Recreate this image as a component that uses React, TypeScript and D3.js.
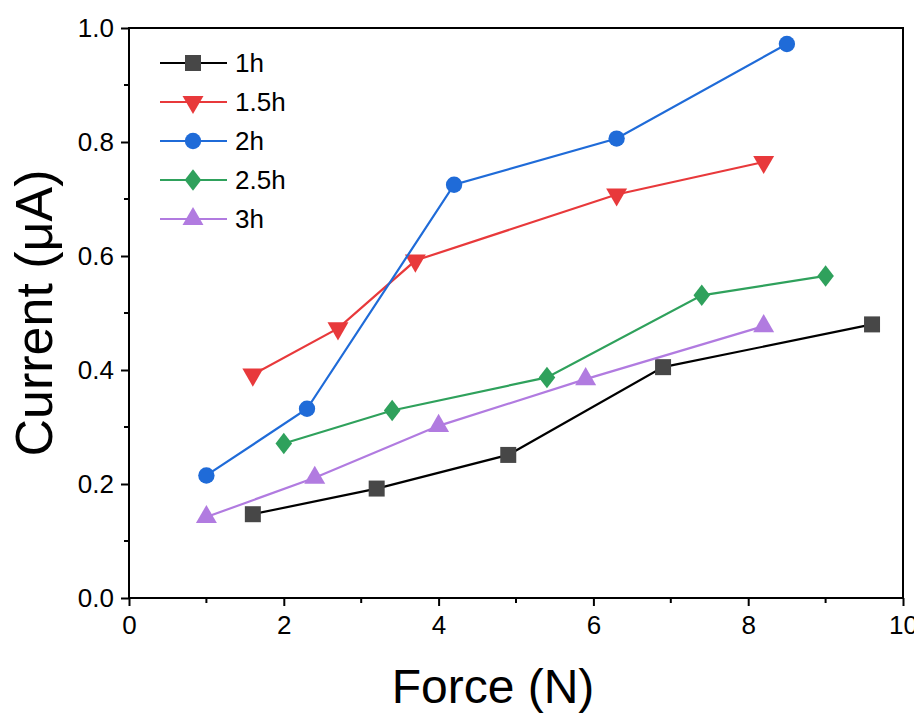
import React, { useEffect, useRef } from "react";
import * as d3 from "d3";

// data
const seriesNames = ["1h", "1.5h", "2h", "2.5h", "3h"];
const seriesColors = ["#000000", "#e8393b", "#1f6bd8", "#2fa15c", "#b17be0"];
const markerFills = ["#474747", "#e8393b", "#1f6bd8", "#2fa15c", "#b17be0"];
const markerShapes = ["square", "triangleDown", "circle", "diamond", "triangle"];

const force1h = [1.6, 3.2, 4.9, 6.9, 9.6];
const current1h = [0.147, 0.192, 0.251, 0.405, 0.48];
const force15h = [1.6, 2.7, 3.7, 6.3, 8.2];
const current15h = [0.392, 0.473, 0.592, 0.708, 0.765];
const force2h = [1.0, 2.3, 4.2, 6.3, 8.5];
const current2h = [0.215, 0.332, 0.725, 0.806, 0.972];
const force25h = [2.0, 3.4, 5.4, 7.4, 9.0];
const current25h = [0.271, 0.329, 0.387, 0.531, 0.565];
const force3h = [1.0, 2.4, 4.0, 5.9, 8.2];
const current3h = [0.142, 0.211, 0.302, 0.384, 0.477];

const xTicks = [0, 2, 4, 6, 8, 10];
const yTicks = [0, 0.2, 0.4, 0.6, 0.8, 1.0];

const allForce = [force1h, force15h, force2h, force25h, force3h];
const allCurrent = [current1h, current15h, current2h, current25h, current3h];

const W = 922;
const H = 722;
const margin = { left: 129, top: 28, right: 19, bottom: 124 };

const symbolFor = (shape: string) => {
  switch (shape) {
    case "square":
    case "diamond":
      return d3.symbol(d3.symbolSquare, shape === "square" ? 256 : 190);
    case "circle":
      return d3.symbol(d3.symbolCircle, 210);
    default:
      return d3.symbol(d3.symbolTriangle, 190);
  }
};

const markerTransform = (shape: string) => {
  if (shape === "triangleDown") return "rotate(180)";
  if (shape === "diamond") return "scale(0.85,1.1) rotate(45)";
  return "";
};

const App = () => {
  const svgRef = useRef<SVGSVGElement>(null);

  useEffect(() => {
    const svg = d3.select(svgRef.current);
    svg.selectAll("*").remove();

    const innerW = W - margin.left - margin.right;
    const innerH = H - margin.top - margin.bottom;
    const x = d3.scaleLinear().domain([0, 10]).range([0, innerW]);
    const y = d3.scaleLinear().domain([0, 1]).range([innerH, 0]);

    const g = svg.append("g").attr("transform", `translate(${margin.left},${margin.top})`);
    const font = "'Liberation Sans', Arial, sans-serif";

    // frame
    g.append("rect")
      .attr("width", innerW)
      .attr("height", innerH)
      .attr("fill", "none")
      .attr("stroke", "#000")
      .attr("stroke-width", 2);

    // minor ticks
    const xMinor = d3.range(1, 10, 2);
    g.selectAll(".xminor")
      .data(xMinor)
      .join("line")
      .attr("x1", (d) => x(d))
      .attr("x2", (d) => x(d))
      .attr("y1", innerH)
      .attr("y2", innerH + 5)
      .attr("stroke", "#000")
      .attr("stroke-width", 2);
    const yMinor = [0.1, 0.3, 0.5, 0.7, 0.9];
    g.selectAll(".yminor")
      .data(yMinor)
      .join("line")
      .attr("x1", 0)
      .attr("x2", -5)
      .attr("y1", (d) => y(d))
      .attr("y2", (d) => y(d))
      .attr("stroke", "#000")
      .attr("stroke-width", 2);

    // axes
    const xAxis = d3.axisBottom(x).tickValues(xTicks).tickSize(8).tickPadding(10).tickFormat(d3.format("d"));
    const gx = g.append("g").attr("transform", `translate(0,${innerH})`).call(xAxis);
    const yAxis = d3.axisLeft(y).tickValues(yTicks).tickSize(8).tickPadding(7).tickFormat(d3.format(".1f"));
    const gy = g.append("g").call(yAxis);
    [gx, gy].forEach((a) => {
      a.select(".domain").remove();
      a.selectAll(".tick line").attr("stroke-width", 2);
      a.selectAll(".tick text").attr("font-family", font).attr("font-size", 26).attr("fill", "#000");
    });

    // lines and markers
    const line = d3
      .line<[number, number]>()
      .x((d) => x(d[0]))
      .y((d) => y(d[1]));

    seriesNames.forEach((name, i) => {
      const pts: [number, number][] = allForce[i].map((f, j) => [f, allCurrent[i][j]]);
      g.append("path")
        .attr("d", line(pts))
        .attr("fill", "none")
        .attr("stroke", seriesColors[i])
        .attr("stroke-width", 2.2);
      const sym = symbolFor(markerShapes[i]);
      g.selectAll(`.m${i}`)
        .data(pts)
        .join("path")
        .attr("d", sym())
        .attr("transform", (d) => `translate(${x(d[0])},${y(d[1])}) ${markerTransform(markerShapes[i])}`)
        .attr("fill", markerFills[i]);
    });

    // legend
    const lg = svg.append("g").attr("transform", "translate(160,63)");
    seriesNames.forEach((name, i) => {
      const row = lg.append("g").attr("transform", `translate(0,${i * 39})`);
      row.append("line")
        .attr("x1", 0)
        .attr("x2", 67)
        .attr("stroke", seriesColors[i])
        .attr("stroke-width", 2.2);
      row.append("path")
        .attr("d", symbolFor(markerShapes[i])())
        .attr("transform", `translate(33,0) ${markerTransform(markerShapes[i])}`)
        .attr("fill", markerFills[i]);
      row.append("text")
        .attr("x", 75)
        .attr("y", 0)
        .attr("dy", "0.36em")
        .attr("font-family", font)
        .attr("font-size", 26)
        .text(name);
    });

    // axis titles
    svg.append("text")
      .attr("x", 493)
      .attr("y", 703)
      .attr("text-anchor", "middle")
      .attr("font-family", font)
      .attr("font-size", 48)
      .text("Force (N)");
    svg.append("text")
      .attr("transform", `translate(52,313) rotate(-90)`)
      .attr("text-anchor", "middle")
      .attr("font-family", font)
      .attr("font-size", 52)
      .text("Current (μA)");
  }, []);

  return (
    <div style={{ margin: -8 }}>
      <svg ref={svgRef} width={W} height={H} style={{ display: "block", background: "#fff" }} />
    </div>
  );
};

export default App;
